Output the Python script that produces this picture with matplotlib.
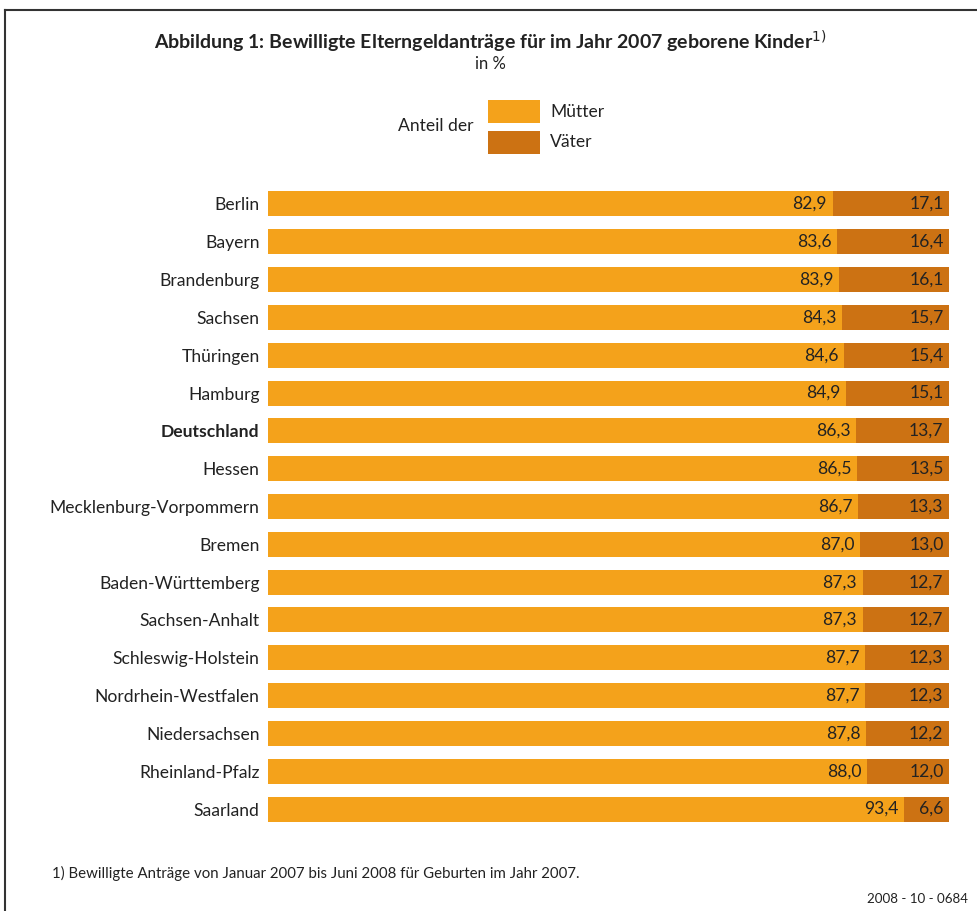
import matplotlib
matplotlib.use("Agg")
import matplotlib.pyplot as plt
from matplotlib.patches import Rectangle
from matplotlib.lines import Line2D

laender = ["Berlin", "Bayern", "Brandenburg", "Sachsen", "Thüringen", "Hamburg",
           "Deutschland", "Hessen", "Mecklenburg-Vorpommern", "Bremen",
           "Baden-Württemberg", "Sachsen-Anhalt", "Schleswig-Holstein",
           "Nordrhein-Westfalen", "Niedersachsen", "Rheinland-Pfalz", "Saarland"]
muetter = [82.9, 83.6, 83.9, 84.3, 84.6, 84.9, 86.3, 86.5, 86.7, 87.0, 87.3, 87.3,
           87.7, 87.7, 87.8, 88.0, 93.4]
vaeter = [17.1, 16.4, 16.1, 15.7, 15.4, 15.1, 13.7, 13.5, 13.3, 13.0, 12.7, 12.7,
          12.3, 12.3, 12.2, 12.0, 6.6]

C_M = "#F4A21B"
C_V = "#CC7213"
FONT = ["Lato", "DejaVu Sans"]
plt.rcParams['font.family'] = FONT
TXT = "#222222"

W, H = 978, 911
fig = plt.figure(figsize=(W / 100, H / 100), dpi=100)

ax = fig.add_axes([268 / W, 1 - 828 / H, (949 - 268) / W, (828 - 185) / H])
y = list(range(len(laender)))
ax.barh(y, muetter, height=0.66, color=C_M, linewidth=0)
ax.barh(y, vaeter, left=muetter, height=0.66, color=C_V, linewidth=0)
ax.set_xlim(0, 100)
ax.set_ylim(len(laender) - 0.5, -0.5)
ax.set_yticks(y)
ax.set_yticklabels(laender, fontsize=12.6, color=TXT)
for lbl in ax.get_yticklabels():
    if lbl.get_text() == "Deutschland":
        lbl.set_fontweight("bold")
ax.tick_params(axis="y", length=0, pad=6)
ax.set_xticks([])
for s in ax.spines.values():
    s.set_visible(False)

def fmt(v):
    return f"{v:.1f}".replace(".", ",")

for i, (m, v) in enumerate(zip(muetter, vaeter)):
    ax.text(m - 0.8, i, fmt(m), ha="right", va="center", fontsize=12.6, color=TXT)
    ax.text(m + v - 0.8, i, fmt(v), ha="right", va="center", fontsize=12.6, color=TXT)

# Title
fig.text(490 / W, 1 - 42 / H, "Abbildung 1: Bewilligte Elterngeldanträge für im Jahr 2007 geborene Kinder$^{1)}$",
         ha="center", va="center", fontsize=14, fontweight="bold", color=TXT)
fig.text(490 / W, 1 - 64 / H, "in %", ha="center", va="center", fontsize=12, color=TXT)

# Legend
fig.patches.append(Rectangle((488 / W, 1 - 123 / H), 52 / W, 23 / H,
                             transform=fig.transFigure, color=C_M, linewidth=0))
fig.patches.append(Rectangle((488 / W, 1 - 154 / H), 52 / W, 23 / H,
                             transform=fig.transFigure, color=C_V, linewidth=0))
fig.text(550 / W, 1 - 112 / H, "Mütter", ha="left", va="center", fontsize=12.6, color=TXT)
fig.text(550 / W, 1 - 142 / H, "Väter", ha="left", va="center", fontsize=12.6, color=TXT)
fig.text(474 / W, 1 - 126 / H, "Anteil der", ha="right", va="center", fontsize=12.6, color=TXT)

# Footnote and ID
fig.text(52 / W, 1 - 873 / H, "1) Bewilligte Anträge von Januar 2007 bis Juni 2008 für Geburten im Jahr 2007.",
         ha="left", va="center", fontsize=10.8, color=TXT)
fig.text(968 / W, 1 - 899 / H, "2008 - 10 - 0684", ha="right", va="center", fontsize=9.6, color=TXT)

# Frame (left and top)
fig.lines.append(Line2D([5 / W, 5 / W], [0, 1 - 10 / H], transform=fig.transFigure,
                        color="#333333", linewidth=1.5))
fig.lines.append(Line2D([5 / W, 1], [1 - 10 / H, 1 - 10 / H], transform=fig.transFigure,
                        color="#333333", linewidth=1.5))

fig.savefig("out.png", dpi=100, facecolor="white")
